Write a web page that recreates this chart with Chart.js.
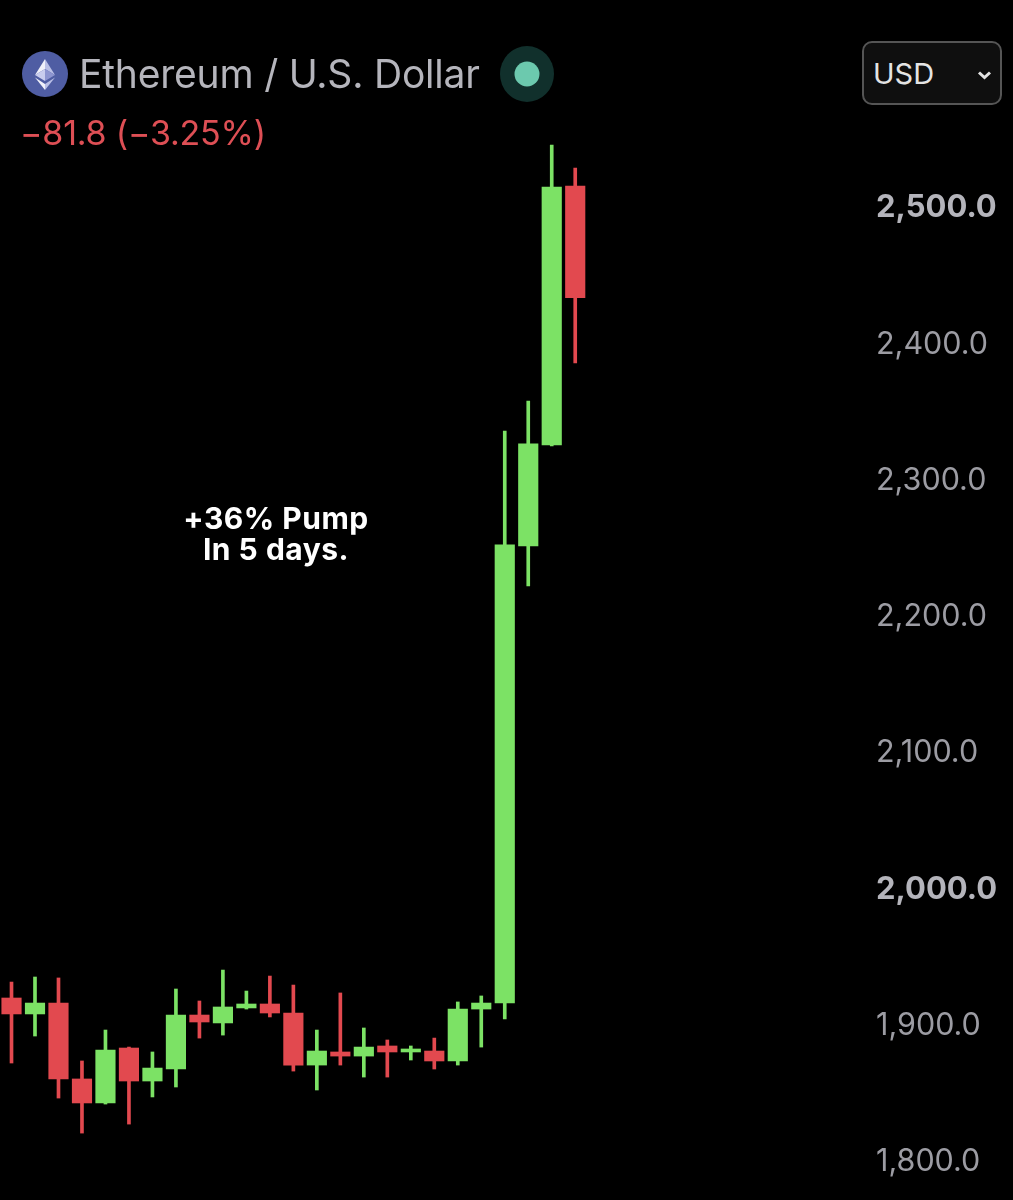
<!DOCTYPE html>
<html>
<head>
<meta charset="utf-8">
<title>Ethereum / U.S. Dollar</title>
<script src="https://cdn.jsdelivr.net/npm/chart.js@4"></script>
<style>
  html, body { margin: 0; padding: 0; background: #000; }
  #page { position: relative; width: 1013px; height: 1200px; overflow: hidden; font-family: Inter, Roboto, sans-serif; }
  #myChart { position: absolute; left: 0; top: 0; }
  .abs { position: absolute; white-space: nowrap; }
  #title { left: 79px; top: 51px; font-size: 39px; line-height: 46px; color: #b5b5bc; letter-spacing: -0.2px; }
  #change { left: 20px; top: 113px; font-size: 34px; line-height: 40px; color: #de4f55; letter-spacing: -0.2px; }
  #note { left: 126px; width: 300px; top: 503px; text-align: center; font-size: 30px; line-height: 31px; font-weight: 700; color: #fff; letter-spacing: 0.5px; }
  #usd { left: 862px; top: 41px; width: 136px; height: 60px; border: 2.5px solid #555; border-radius: 10px; background: #0f0f0f; }
  #usdText { left: 873px; top: 56px; font-size: 29px; line-height: 36px; color: #e4e4e4; }
</style>
</head>
<body>
<div id="page">
  <canvas id="myChart" width="1013" height="1200"></canvas>
  <svg class="abs" style="left:0;top:0" width="600" height="110">
    <circle cx="45" cy="74" r="23" fill="#4f5da3"/>
    <path d="M45 59 L35 75 L45 69 Z" fill="#f0f1fa"/>
    <path d="M45 59 L55 75 L45 69 Z" fill="#b9bfe6"/>
    <path d="M35 75 L45 69 L45 81 Z" fill="#c9cdee"/>
    <path d="M55 75 L45 69 L45 81 Z" fill="#8d95d0"/>
    <path d="M35 77.5 L45 84 L45 90 Z" fill="#f0f1fa"/>
    <path d="M55 77.5 L45 84 L45 90 Z" fill="#b9bfe6"/>
    <ellipse cx="527" cy="74" rx="27" ry="28" fill="#11302c"/>
    <circle cx="527" cy="74" r="12.5" fill="#6cc9ae"/>
  </svg>
  <div id="title" class="abs">Ethereum / U.S. Dollar</div>
  <div id="change" class="abs">−81.8 (−3.25%)</div>
  <div id="usd" class="abs"></div>
  <div id="usdText" class="abs">USD</div>
  <svg class="abs" style="left:975px;top:69px" width="20" height="14">
    <path d="M4 3.5 L9.5 8.5 L15 3.5" fill="none" stroke="#e4e4e4" stroke-width="3"/>
  </svg>
  <div id="note" class="abs">+36% Pump<br>In 5 days.</div>
</div>
<script>
'use strict';
const opens = [1918.2, 1906.5, 1914.5, 1858.8, 1841.2, 1881.5, 1857.3, 1866.1, 1905.7, 1899.9, 1910.9, 1913.8, 1907.2, 1869, 1878.6, 1875.6, 1883, 1878.6, 1879.3, 1872, 1910.1, 1914.5, 2249.8, 2323.9, 2513.9];
const highs = [1929.9, 1933.6, 1932.9, 1872, 1894.7, 1882.2, 1878.6, 1924.8, 1916, 1938.7, 1923.3, 1934.3, 1927.7, 1894.7, 1921.9, 1896.2, 1887.4, 1883, 1888.8, 1915.3, 1919.7, 2334.2, 2356.2, 2544, 2527.1];
const lows = [1870.5, 1890.3, 1844.8, 1819.1, 1840.4, 1825.7, 1845.6, 1852.9, 1888.8, 1891, 1910.1, 1904.3, 1864.6, 1850.7, 1869, 1860.2, 1860.2, 1872.7, 1866.1, 1869, 1882.2, 1902.8, 2220.5, 2323.2, 2384.1];
const closes = [1906.5, 1914.5, 1858.8, 1841.2, 1880, 1857.3, 1866.8, 1905.7, 1900.6, 1911.6, 1913.8, 1907.2, 1869, 1879.3, 1875.6, 1882.2, 1878.6, 1880.8, 1872, 1910.1, 1914.5, 2250.6, 2324.7, 2513.2, 2432.1];
const tickValues = [1800, 1900, 2000, 2100, 2200, 2300, 2400, 2500];
const boldTicks = [2000, 2500];

const GREEN = '#7ce265';
const RED = '#e2494f';
const colors = opens.map((o, i) => (closes[i] >= o ? GREEN : RED));

// the empty first line nudges the label down by half of the small lineHeight
function formatPrice(v) {
  return ['', v.toLocaleString('en-US', { minimumFractionDigits: 1, maximumFractionDigits: 1 })];
}

function isBold(c) {
  return !!c.tick && boldTicks.includes(c.tick.value);
}

const ctx = document.getElementById('myChart').getContext('2d');
new Chart(ctx, {
  type: 'bar',
  data: {
    datasets: [
      {
        label: 'Wick',
        data: opens.map((o, i) => ({ x: i, y: [lows[i], highs[i]] })),
        backgroundColor: colors,
        barThickness: 3,
        grouped: false,
        order: 2
      },
      {
        label: 'Body',
        data: opens.map((o, i) => ({ x: i, y: [o, closes[i]] })),
        backgroundColor: colors,
        barThickness: 19.5,
        grouped: false,
        order: 1
      }
    ]
  },
  options: {
    responsive: false,
    animation: false,
    devicePixelRatio: 1,
    layout: { padding: 0 },
    plugins: { legend: { display: false }, tooltip: { enabled: false } },
    scales: {
      x: {
        type: 'linear',
        offset: false,
        min: -0.49,
        max: 36.55,
        display: false
      },
      y: {
        position: 'right',
        min: 1770,
        max: 2650.4,
        afterBuildTicks: (axis) => { axis.ticks = tickValues.map((v) => ({ value: v })); },
        // labels never reach the canvas edge, so no room is needed for them
        afterFit: (axis) => {
          axis.width = 143;
          axis.paddingTop = 0;
          axis.paddingBottom = 0;
        },
        grid: { display: false, drawTicks: false },
        border: { display: false },
        ticks: {
          padding: 6,
          align: 'center',
          crossAlign: 'near',
          callback: formatPrice,
          color: (c) => (isBold(c) ? '#b4b4bb' : '#9c9ca3'),
          font: (c) => ({ family: 'Inter', size: isBold(c) ? 31 : 30.5, weight: isBold(c) ? '700' : '400', lineHeight: 0.2 })
        }
      }
    }
  }
});
</script>
</body>
</html>
